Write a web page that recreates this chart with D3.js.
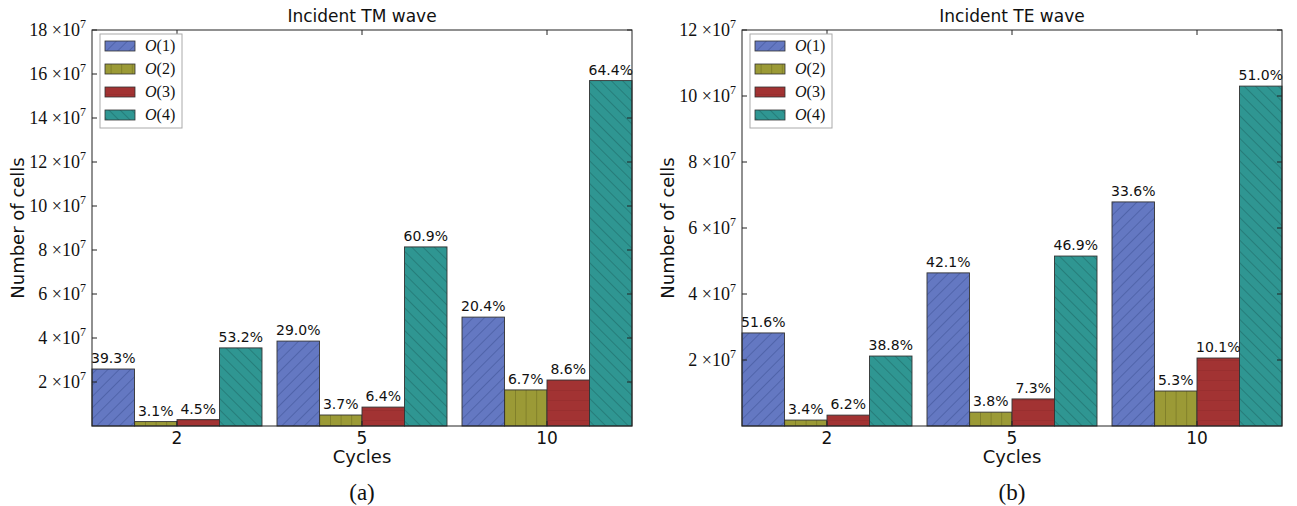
<!DOCTYPE html>
<html>
<head>
<meta charset="utf-8">
<script src="https://cdn.jsdelivr.net/npm/d3@7"></script>
<style>
  body { margin: 0; background: #fff; }
  svg text { fill: #111; }
</style>
</head>
<body>
<svg id="chart" width="1297" height="506"></svg>
<script>
// Data
const cycles = ['2', '5', '10'];
const orders = ['O(1)', 'O(2)', 'O(3)', 'O(4)'];

// number of cells, in units of 1e7, one row per cycle value
const tmCells = [
  [2.59, 0.20, 0.29, 3.55],
  [3.86, 0.50, 0.86, 8.14],
  [4.95, 1.64, 2.09, 15.7]
];
const tmPercent = [
  ['39.3%', '3.1%', '4.5%', '53.2%'],
  ['29.0%', '3.7%', '6.4%', '60.9%'],
  ['20.4%', '6.7%', '8.6%', '64.4%']
];
const teCells = [
  [2.82, 0.18, 0.33, 2.12],
  [4.64, 0.42, 0.82, 5.15],
  [6.79, 1.06, 2.06, 10.3]
];
const tePercent = [
  ['51.6%', '3.4%', '6.2%', '38.8%'],
  ['42.1%', '3.8%', '7.3%', '46.9%'],
  ['33.6%', '5.3%', '10.1%', '51.0%']
];
const tmTicks = [2, 4, 6, 8, 10, 12, 14, 16, 18];
const teTicks = [2, 4, 6, 8, 10, 12];

const colors = ['#6478c2', '#9b9a36', '#a23333', '#2f9692'];
const hatchColors = ['#34478a', '#5f5e18', '#6e1c1c', '#175c58'];

const svg = d3.select('#chart');
const defs = svg.append('defs');

// hatch patterns: /, |, -, \
const hatch = [
  { angle: 45, size: 8 },
  { angle: 0, size: 10.6 },
  { angle: 90, size: 10 },
  { angle: -45, size: 8 }
];
hatch.forEach((h, i) => {
  const p = defs.append('pattern')
    .attr('id', 'hatch' + i)
    .attr('patternUnits', 'userSpaceOnUse')
    .attr('width', h.size)
    .attr('height', h.size)
    .attr('patternTransform', `rotate(${h.angle})`);
  p.append('rect').attr('width', h.size).attr('height', h.size).attr('fill', colors[i]);
  p.append('line')
    .attr('x1', 0).attr('y1', 0).attr('x2', 0).attr('y2', h.size)
    .attr('stroke', hatchColors[i])
    .attr('stroke-width', i === 2 ? 0.7 : 1)
    .attr('opacity', i === 2 ? 0.5 : 0.85);
});

const panels = [
  { left: 92, title: 'Incident TM wave', cells: tmCells, pct: tmPercent, max: 18, ticks: tmTicks, caption: '(a)' },
  { left: 742, title: 'Incident TE wave', cells: teCells, pct: tePercent, max: 12, ticks: teTicks, caption: '(b)' }
];

const plotTop = 30, plotBottom = 426, plotW = 540;

panels.forEach(panel => {
  const g = svg.append('g');
  const x0 = d3.scaleBand()
    .domain(cycles)
    .range([panel.left, panel.left + plotW])
    .paddingInner(15 / 185)
    .paddingOuter(0);
  const x1 = d3.scaleBand()
    .domain(orders)
    .range([0, x0.bandwidth()]);
  const y = d3.scaleLinear()
    .domain([0, panel.max])
    .range([plotBottom, plotTop]);

  // bars
  cycles.forEach((c, ci) => {
    const grp = g.append('g').attr('transform', `translate(${x0(c)},0)`);
    grp.selectAll('rect')
      .data(panel.cells[ci])
      .join('rect')
      .attr('x', (d, i) => x1(orders[i]))
      .attr('y', d => y(d))
      .attr('width', x1.bandwidth())
      .attr('height', d => plotBottom - y(d))
      .attr('fill', (d, i) => `url(#hatch${i})`)
      .attr('stroke', '#333')
      .attr('stroke-width', 0.9);
    grp.selectAll('text')
      .data(panel.cells[ci])
      .join('text')
      .attr('x', (d, i) => x1(orders[i]) + x1.bandwidth() / 2)
      .attr('y', d => y(d) - 6)
      .attr('text-anchor', 'middle')
      .style('font-family', 'DejaVu Sans')
      .style('font-size', '14px')
      .text((d, i) => panel.pct[ci][i]);
  });

  // frame
  g.append('rect')
    .attr('x', panel.left).attr('y', plotTop)
    .attr('width', plotW).attr('height', plotBottom - plotTop)
    .attr('fill', 'none').attr('stroke', '#222').attr('stroke-width', 1);

  // y ticks on both sides (inward)
  panel.ticks.forEach(t => {
    g.append('line').attr('x1', panel.left).attr('x2', panel.left + 5)
      .attr('y1', y(t)).attr('y2', y(t)).attr('stroke', '#222');
    g.append('line').attr('x1', panel.left + plotW).attr('x2', panel.left + plotW - 5)
      .attr('y1', y(t)).attr('y2', y(t)).attr('stroke', '#222');
    const lbl = g.append('text')
      .attr('x', panel.left - 6)
      .attr('y', y(t) + 6)
      .attr('text-anchor', 'end')
      .style('font-family', 'Liberation Serif')
      .style('font-size', '18px');
    lbl.append('tspan').text(t + ' \u00d710');
    lbl.append('tspan').attr('dy', -8).style('font-size', '12px').text('7');
  });

  // x ticks top and bottom, labels
  cycles.forEach(c => {
    const cx = x0(c) + x0.bandwidth() / 2;
    g.append('line').attr('x1', cx).attr('x2', cx).attr('y1', plotBottom).attr('y2', plotBottom - 5).attr('stroke', '#222');
    g.append('line').attr('x1', cx).attr('x2', cx).attr('y1', plotTop).attr('y2', plotTop + 5).attr('stroke', '#222');
    g.append('text')
      .attr('x', cx).attr('y', plotBottom + 18)
      .attr('text-anchor', 'middle')
      .style('font-family', 'DejaVu Sans')
      .style('font-size', '17px')
      .text(c);
  });

  const midX = panel.left + plotW / 2;
  g.append('text')
    .attr('x', midX).attr('y', plotBottom + 37)
    .attr('text-anchor', 'middle')
    .style('font-family', 'DejaVu Sans')
    .style('font-size', '18px')
    .text('Cycles');
  g.append('text')
    .attr('x', midX).attr('y', plotTop - 8)
    .attr('text-anchor', 'middle')
    .style('font-family', 'DejaVu Sans')
    .style('font-size', '17px')
    .text(panel.title);
  g.append('text')
    .attr('transform', `translate(${panel.left - 68},${(plotTop + plotBottom) / 2}) rotate(-90)`)
    .attr('text-anchor', 'middle')
    .style('font-family', 'DejaVu Sans')
    .style('font-size', '18px')
    .text('Number of cells');
  g.append('text')
    .attr('x', midX).attr('y', plotBottom + 74)
    .attr('text-anchor', 'middle')
    .style('font-family', 'Liberation Serif')
    .style('font-size', '23px')
    .text(panel.caption);

  // legend
  const lg = g.append('g').attr('transform', `translate(${panel.left + 8},${plotTop + 4})`);
  lg.append('rect')
    .attr('width', 82).attr('height', 94)
    .attr('fill', '#fff').attr('stroke', '#aaa').attr('stroke-width', 1);
  orders.forEach((o, i) => {
    const ly = 12 + i * 23;
    lg.append('rect')
      .attr('x', 5).attr('y', ly - 5)
      .attr('width', 30).attr('height', 10)
      .attr('fill', `url(#hatch${i})`)
      .attr('stroke', '#333').attr('stroke-width', 0.8);
    const t = lg.append('text')
      .attr('x', 45).attr('y', ly + 5)
      .style('font-family', 'Liberation Serif')
      .style('font-size', '16px');
    t.append('tspan').style('font-style', 'italic').text('O');
    t.append('tspan').text(o.slice(1));
  });
});
</script>
</body>
</html>
